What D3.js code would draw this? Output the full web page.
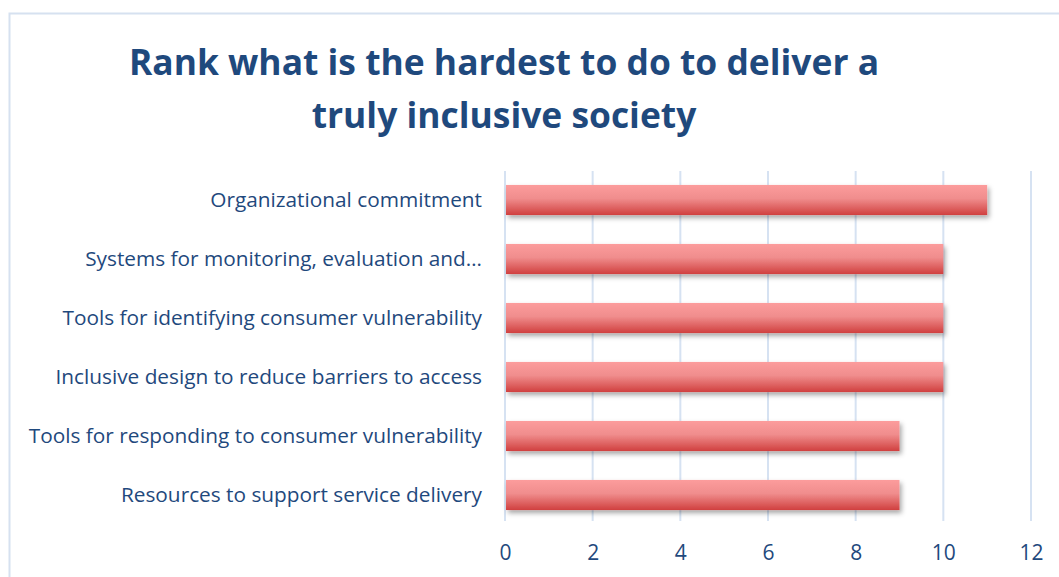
<html>
<head>
<script src="https://d3js.org/d3.v7.min.js"></script>
<style>
  body { margin: 0; background: #fff; }
  text { font-family: "Open Sans", Lato, sans-serif; }
</style>
</head>
<body>
<svg id="chart" width="1059" height="577"></svg>
<script>
const categories = [
  'Organizational commitment',
  'Systems for monitoring, evaluation and\u2026',
  'Tools for identifying consumer vulnerability',
  'Inclusive design to reduce barriers to access',
  'Tools for responding to consumer vulnerability',
  'Resources to support service delivery'
];
const values = [11, 10, 10, 10, 9, 9];
const tickValues = [0, 2, 4, 6, 8, 10, 12];
const titleLines = ['Rank what is the hardest to do to deliver a', 'truly inclusive society'];

const svg = d3.select('#chart');
const textColor = '#1f497d';
const font = '"Open Sans", Lato, sans-serif';

// outer chart frame
svg.append('rect')
  .attr('x', 9.5).attr('y', 13.5)
  .attr('width', 1070).attr('height', 600)
  .attr('fill', 'none')
  .attr('stroke', '#d6e1f0')
  .attr('stroke-width', 2);

const defs = svg.append('defs');
const grad = defs.append('linearGradient')
  .attr('id', 'barGrad').attr('x1', 0).attr('y1', 0).attr('x2', 0).attr('y2', 1);
grad.append('stop').attr('offset', '0%').attr('stop-color', '#fc9c9c');
grad.append('stop').attr('offset', '45%').attr('stop-color', '#f08d8d');
grad.append('stop').attr('offset', '100%').attr('stop-color', '#d0403f');

const shadow = defs.append('filter').attr('id', 'shadow')
  .attr('x', '-5%').attr('y', '-20%').attr('width', '115%').attr('height', '160%');
shadow.append('feDropShadow')
  .attr('dx', 2).attr('dy', 3).attr('stdDeviation', 2.5)
  .attr('flood-color', '#000').attr('flood-opacity', 0.35);

// title
svg.append('g').selectAll('text')
  .data(titleLines)
  .enter().append('text')
    .attr('x', 504)
    .attr('y', (d, i) => 75 + i * 53)
    .attr('text-anchor', 'middle')
    .attr('font-family', font)
    .attr('font-size', 35.4)
    .attr('font-weight', 'bold')
    .attr('fill', textColor)
    .text(d => d);

const x = d3.scaleLinear().domain([0, 12]).range([505, 1031]);
const y = d3.scaleBand().domain(categories).range([170.5, 524.5]).paddingInner(0.49).paddingOuter(0.245);

// gridlines
svg.append('g').selectAll('line')
  .data(tickValues)
  .enter().append('line')
    .attr('x1', d => x(d)).attr('x2', d => x(d))
    .attr('y1', 171).attr('y2', 521)
    .attr('stroke', '#d6e2f2')
    .attr('stroke-width', 2);

// bars
svg.append('g').selectAll('rect')
  .data(values)
  .enter().append('rect')
    .attr('x', x(0) + 1)
    .attr('y', (d, i) => y(categories[i]))
    .attr('width', d => x(d) - x(0) - 1)
    .attr('height', y.bandwidth())
    .attr('fill', 'url(#barGrad)')
    .attr('filter', 'url(#shadow)');

// category labels
const yAxis = svg.append('g')
  .attr('transform', 'translate(' + (x(0) - 23) + ',0)')
  .call(d3.axisLeft(y).tickSize(0).tickPadding(0));
yAxis.select('.domain').remove();
yAxis.selectAll('text')
  .attr('font-family', font)
  .attr('font-size', 20.8)
  .attr('fill', textColor);

// value axis
const xAxis = svg.append('g')
  .attr('transform', 'translate(0,521)')
  .call(d3.axisBottom(x).tickValues(tickValues).tickSize(0).tickPadding(24));
xAxis.select('.domain').remove();
xAxis.selectAll('text')
  .attr('font-family', font)
  .attr('font-size', 21)
  .attr('fill', textColor);
</script>
</body>
</html>
